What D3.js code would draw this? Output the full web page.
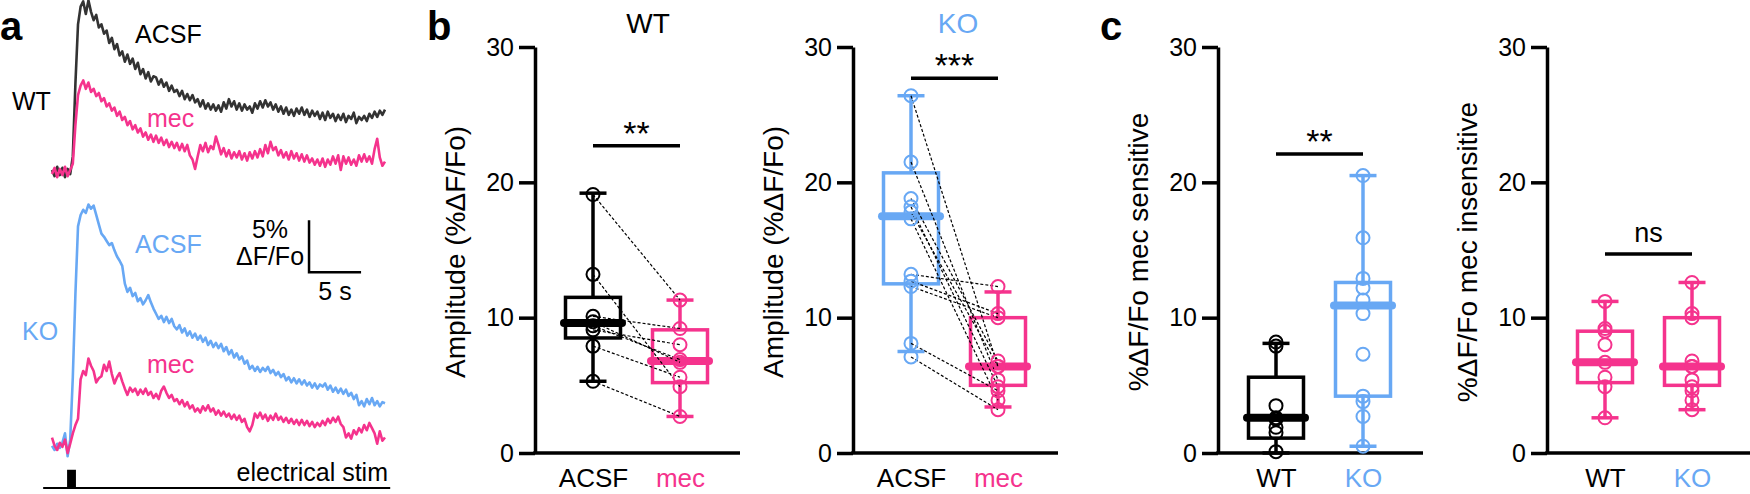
<!DOCTYPE html>
<html>
<head>
<meta charset="utf-8">
<script src="https://cdn.jsdelivr.net/npm/d3@7"></script>
<style>
  body { margin: 0; background: #fff; }
  svg text { font-family: "Liberation Sans", Arial, sans-serif; }
</style>
</head>
<body>
<svg id="fig" width="1750" height="494"></svg>
<script>
// ---- panel a: example traces, one value every 0.25 s (%dF/Fo) ----
const traceStep = 0.25;
const wtAcsf = [
  0.2, -0.4, 0.5, -0.3, 0.4, -0.5, 0.3, -0.2,
  1.5, 8.5, 14.2, 15.9, 16.4, 15.2, 16.5, 15.4,
  14.6, 15.1, 13.9, 14.2, 13.3, 13.6, 12.4, 12.9,
  11.8, 12.3, 11.2, 11.6, 10.6, 11.3, 10.4, 10.9,
  9.9, 10.5, 9.4, 9.9, 9.0, 9.6, 8.7, 9.2,
  9.1, 8.4, 8.9, 8.2, 8.6, 7.8, 8.3, 7.7,
  7.9, 7.3, 7.8, 7.0, 7.5, 6.9, 7.4, 6.7,
  7.0, 6.3, 6.9, 6.1, 6.6, 6.0, 6.5, 5.9,
  6.4, 5.8, 6.7, 6.1, 7.0, 6.3, 6.8, 6.0,
  6.6, 5.9, 6.5, 6.0, 6.3, 5.7, 6.6, 6.1,
  6.8, 6.2, 6.9, 6.3, 6.7, 6.0, 6.5, 5.8,
  6.3, 5.6, 6.2, 5.5, 6.0, 5.4, 6.1, 5.6,
  6.2, 5.5, 6.0, 5.3, 5.9, 5.4, 5.8, 5.1,
  5.7, 5.0, 5.8, 5.2, 5.6, 4.9, 5.5, 5.0,
  5.6, 4.8, 5.4, 5.1, 5.7, 4.7, 5.3, 5.0,
  5.4, 4.9, 5.6, 5.2, 5.8, 5.3, 5.9, 5.5,
  6.0
];
const wtMec = [
  -0.2, 0.4, -0.5, 0.3, -0.3, 0.5, -0.4, 0.2,
  0.8, 4.5, 7.4, 8.3, 8.8, 8.0, 8.6, 7.7,
  8.0, 7.3, 7.6, 6.8, 7.1, 6.3, 6.6, 5.9,
  6.2, 5.4, 5.8, 5.0, 5.3, 4.5, 4.9, 4.1,
  4.5, 3.8, 4.2, 3.4, 3.8, 3.1, 3.6, 2.9,
  3.5, 2.8, 3.3, 2.6, 3.1, 2.4, 2.9, 2.3,
  2.8, 2.1, 2.7, 2.0, 2.6, 1.6, 1.2, 0.3,
  1.5, 2.6, 2.0, 2.8, 1.9, 2.5, 2.2, 3.4,
  2.6, 1.7, 2.3, 1.5, 2.1, 1.3, 1.9, 1.4,
  2.0, 1.2, 1.8, 1.1, 1.9, 1.3, 2.0, 1.4,
  2.2, 1.5, 2.6, 1.8, 2.9, 2.1, 2.4, 1.6,
  2.1, 1.4, 1.9, 1.2, 2.0, 1.3, 1.8, 1.1,
  1.7, 1.0, 1.6, 0.9, 1.3, 0.7, 1.2, 0.6,
  1.3, 0.5, 1.2, 0.7, 1.5, 0.8, 1.6, 0.2,
  1.5, 0.8, 1.4, 0.7, 1.2, 0.6, 1.6, 1.0,
  1.7, 1.0, 1.5, 0.8, 2.2, 3.2, 1.4, 0.6,
  1.0
];
const koAcsf = [
  0.4, 0.0, 0.6, 0.2, 0.7, 1.6, -0.6, 1.0,
  7.0, 15.0, 21.5, 22.6, 23.1, 22.8, 23.6, 23.2,
  23.5, 22.6, 21.7, 20.8, 20.5, 20.1, 19.7, 19.9,
  19.2, 18.6, 18.2, 17.7, 16.0, 15.2, 15.6, 14.8,
  15.1, 14.3, 14.6, 14.0, 14.4, 14.9, 14.2, 13.6,
  13.1, 12.6, 12.9, 12.3, 12.8, 12.2, 12.6, 11.9,
  11.6, 12.0, 11.3, 11.7, 11.0, 11.4, 10.8, 11.2,
  10.6, 11.0, 10.4, 10.8, 10.1, 10.5, 9.9, 10.3,
  9.8, 10.2, 9.5, 9.9, 9.2, 9.6, 8.9, 9.3,
  8.7, 9.0, 8.3, 8.6, 7.8, 8.1, 7.6, 8.0,
  7.5, 7.9, 7.6, 8.0, 7.4, 7.7, 7.2, 7.5,
  7.0, 7.3, 6.7, 7.0, 6.5, 6.9, 6.4, 6.8,
  6.3, 6.7, 6.2, 6.5, 6.0, 6.4, 5.9, 6.3,
  6.1, 6.4, 5.8, 6.2, 5.6, 6.0, 5.5, 5.9,
  5.4, 5.8, 5.2, 5.5, 4.9, 5.3, 4.3, 4.7,
  4.2, 4.9, 4.4, 5.0, 4.3, 4.7, 4.2, 4.6,
  4.5
];
const koMec = [
  1.2, 0.4, 0.0, 0.7, 0.3, 1.0, -0.3, 0.6,
  1.6, 2.4, 3.0, 6.8, 7.6, 7.2, 8.8, 8.1,
  7.6, 6.5, 6.9, 7.1, 8.2, 7.6, 8.5, 7.3,
  6.4, 7.0, 7.4, 6.6, 5.9, 5.3, 6.0, 5.6,
  5.9, 5.3, 5.8, 5.4, 5.9, 5.3, 5.6, 5.0,
  5.4, 4.9, 5.7, 6.1, 5.5, 5.0, 5.3, 4.7,
  4.9, 4.4, 4.8, 4.2, 4.6, 4.0, 4.3, 3.7,
  4.0, 3.6, 4.2, 3.8, 4.3, 3.7, 4.0, 3.4,
  3.8, 3.3, 3.7, 3.2, 3.5, 3.0, 3.4, 2.9,
  3.3, 2.7, 3.0, 2.2, 1.8, 2.4, 3.5, 3.1,
  3.6, 3.0, 3.4, 2.8, 3.3, 2.9, 3.5, 2.9,
  3.2, 2.7, 3.1, 2.6, 3.0, 2.5, 2.9, 2.4,
  2.9, 2.4, 2.8, 2.3, 2.7, 2.2, 2.6, 2.3,
  2.8, 2.4, 3.0, 2.6, 3.1, 2.7, 3.2, 2.5,
  2.2, 1.2, 1.6, 1.1, 1.9, 1.5, 2.1, 1.7,
  2.4, 1.9, 2.6, 2.1, 1.6, 0.6, 1.8, 0.9,
  1.2
];

// ---- panel b: paired amplitudes (%dF/Fo) ----
const condCats = ["ACSF", "mec"];
const wtAcsfAmp = [19.1, 13.2, 10.1, 9.7, 9.4, 9.1, 7.9, 5.3];
const wtMecAmp  = [11.3, 4.9, 9.2, 6.7, 6.9, 8.0, 5.6, 2.7];
const koAcsfAmp = [26.4, 21.5, 18.8, 18.2, 17.8, 17.3, 13.2, 12.7, 12.3, 8.1, 7.1];
const koMecAmp  = [6.4, 5.4, 6.8, 4.9, 6.4, 3.9, 12.3, 10.3, 10.0, 4.6, 3.2];
// box stats: [min, q1, median, q3, max]
const wtAcsfBox = [5.3, 8.5, 9.6, 11.5, 19.2];
const wtMecBox  = [2.7, 5.2, 6.8, 9.1, 11.3];
const koAcsfBox = [7.5, 12.5, 17.5, 20.7, 26.4];
const koMecBox  = [3.4, 5.0, 6.4, 10.0, 11.9];

// ---- panel c: mec sensitive / insensitive ----
const genoCats = ["WT", "KO"];
const sensWt = [8.2, 7.9, 3.5, 2.6, 2.5, 1.9, 1.5, 0.1];
const sensKo = [20.5, 15.9, 12.9, 12.2, 11.3, 10.3, 7.3, 4.2, 3.8, 2.7, 0.5];
const sensWtBox = [0.0, 1.1, 2.6, 5.6, 8.1];
const sensKoBox = [0.5, 4.2, 10.9, 12.6, 20.5];
const insensWt = [11.2, 9.2, 9.0, 8.0, 6.7, 5.6, 4.9, 2.6];
const insensKo = [12.6, 10.3, 10.0, 6.8, 6.4, 6.4, 5.4, 4.9, 4.6, 3.9, 3.2];
const insensWtBox = [2.6, 5.2, 6.7, 9.0, 11.2];
const insensKoBox = [3.2, 5.0, 6.4, 10.0, 12.6];

const yTicks = [0, 10, 20, 30];

const pink = "#f5338d";
const blue = "#68a8f4";
const traceGrey = "#333";
const svg = d3.select("#fig");

// ================= panel a =================
const xT = d3.scaleLinear().domain([0, 32]).range([52, 385]);
const yWT = d3.scaleLinear().domain([0, 10]).range([172, 68]);
const yKO = d3.scaleLinear().domain([0, 10]).range([450, 346]);

function drawTrace(vals, yScale, color) {
  const line = d3.line()
    .x((d, i) => xT(i * traceStep))
    .y(d => yScale(d));
  svg.append("path")
    .datum(vals)
    .attr("d", line)
    .attr("fill", "none")
    .attr("stroke", color)
    .attr("stroke-width", 2.6)
    .attr("stroke-linejoin", "round");
}
drawTrace(wtAcsf, yWT, traceGrey);
drawTrace(wtMec, yWT, pink);
drawTrace(koAcsf, yKO, blue);
drawTrace(koMec, yKO, pink);

function txt(x, y, s, opts = {}) {
  return svg.append("text")
    .attr("x", x).attr("y", y)
    .attr("font-size", opts.size || 25)
    .attr("font-weight", opts.weight || "normal")
    .attr("fill", opts.color || "#000")
    .attr("text-anchor", opts.anchor || "start")
    .text(s);
}

txt(0, 40, "a", { size: 40, weight: "bold" });
txt(135, 43, "ACSF");
txt(12, 110, "WT");
txt(147, 127, "mec", { color: pink });
txt(135, 253, "ACSF", { color: blue });
txt(22, 340, "KO", { color: blue });
txt(147, 373, "mec", { color: pink });

// scale bar: 5 % and 5 s
const sbT = 24.7, sbV = 17.1;
svg.append("path")
  .attr("d", `M${xT(sbT)},${yKO(sbV + 5)}V${yKO(sbV)}H${xT(sbT + 5)}`)
  .attr("fill", "none").attr("stroke", "#000").attr("stroke-width", 2.5);
txt(270, 238, "5%", { anchor: "middle" });
txt(270, 265, "ΔF/Fo", { anchor: "middle" });
txt(xT(sbT + 2.5), 300, "5 s", { anchor: "middle" });

// stimulation marker
svg.append("line")
  .attr("x1", xT(-0.85)).attr("x2", xT(32.5))
  .attr("y1", yKO(-3.65)).attr("y2", yKO(-3.65))
  .attr("stroke", "#000").attr("stroke-width", 2);
svg.append("rect")
  .attr("x", xT(1.45)).attr("width", xT(2.3) - xT(1.45))
  .attr("y", yKO(-1.9)).attr("height", yKO(-3.65) - yKO(-1.9))
  .attr("fill", "#000");
txt(388, 481, "electrical stim", { anchor: "end" });

// ================= panels b, c =================
const y = d3.scaleLinear().domain([0, 30]).range([453, 47]);

function boxPanel(p) {
  const x = d3.scalePoint().domain(p.cats).range([p.left + 58, p.left + 145]);
  const g = svg.append("g");

  const ax = g.append("g")
    .attr("transform", `translate(${p.left},0)`)
    .call(d3.axisLeft(y).tickValues(yTicks).tickSize(16).tickPadding(5).tickSizeOuter(0));
  ax.attr("font-family", null).attr("font-size", null);
  ax.select(".domain").attr("stroke-width", 3.5).attr("stroke", "#000");
  ax.selectAll(".tick line").attr("stroke-width", 3.5).attr("stroke", "#000");
  ax.selectAll(".tick text").attr("font-size", 25).attr("fill", "#000");

  g.append("line")
    .attr("x1", p.left - 1.75).attr("x2", p.left + 205)
    .attr("y1", y(0)).attr("y2", y(0))
    .attr("stroke", "#000").attr("stroke-width", 3.5);

  const xa = g.append("g")
    .attr("transform", `translate(0,${y(0)})`)
    .call(d3.axisBottom(x).tickSize(0).tickPadding(16));
  xa.attr("font-family", null).attr("font-size", null);
  xa.select(".domain").remove();
  xa.selectAll(".tick text")
    .attr("font-size", 26)
    .attr("fill", (d, i) => p.catColors[i]);

  g.append("text")
    .attr("transform", `translate(${p.left - 70},252) rotate(-90)`)
    .attr("text-anchor", "middle")
    .attr("font-size", 28)
    .text(p.label);

  if (p.title) {
    g.append("text")
      .attr("x", p.title.x).attr("y", 33)
      .attr("text-anchor", "middle")
      .attr("font-size", 28)
      .attr("fill", p.title.color)
      .text(p.title.text);
  }

  // boxes
  p.groups.forEach((grp, i) => {
    const cx = x(p.cats[i]);
    const [mn, q1, md, q3, mx] = grp.box;
    const bg = g.append("g").attr("stroke", grp.color).attr("fill", "none");
    bg.append("line").attr("x1", cx).attr("x2", cx).attr("y1", y(mn)).attr("y2", y(q1)).attr("stroke-width", 3.5);
    bg.append("line").attr("x1", cx).attr("x2", cx).attr("y1", y(q3)).attr("y2", y(mx)).attr("stroke-width", 3.5);
    [mn, mx].forEach(v => {
      bg.append("line").attr("x1", cx - 13.5).attr("x2", cx + 13.5).attr("y1", y(v)).attr("y2", y(v)).attr("stroke-width", 3.5);
    });
    bg.append("rect")
      .attr("x", cx - 27.5).attr("width", 55)
      .attr("y", y(q3)).attr("height", y(q1) - y(q3))
      .attr("stroke-width", 3.5);
    bg.append("line")
      .attr("x1", cx - 29).attr("x2", cx + 29)
      .attr("y1", y(md)).attr("y2", y(md))
      .attr("stroke-width", 8).attr("stroke-linecap", "round");
  });

  // paired dashed lines
  if (p.paired) {
    const a = p.groups[0].vals, b = p.groups[1].vals;
    g.append("g").selectAll("line")
      .data(d3.range(a.length))
      .join("line")
      .attr("x1", x(p.cats[0])).attr("x2", x(p.cats[1]))
      .attr("y1", i => y(a[i])).attr("y2", i => y(b[i]))
      .attr("stroke", "#000").attr("stroke-width", 1.2)
      .attr("stroke-dasharray", "3,2");
  }

  // points
  p.groups.forEach((grp, i) => {
    g.append("g").selectAll("circle")
      .data(grp.vals)
      .join("circle")
      .attr("cx", x(p.cats[i]))
      .attr("cy", d => y(d))
      .attr("r", 6.5)
      .attr("fill", "none")
      .attr("stroke", grp.color)
      .attr("stroke-width", 2);
  });

  // significance
  const s = p.sig;
  g.append("line")
    .attr("x1", x(p.cats[0])).attr("x2", x(p.cats[1]))
    .attr("y1", y(s.v)).attr("y2", y(s.v))
    .attr("stroke", "#000").attr("stroke-width", 3.5);
  g.append("text")
    .attr("x", (x(p.cats[0]) + x(p.cats[1])) / 2)
    .attr("y", y(s.v) - s.dy)
    .attr("text-anchor", "middle")
    .attr("font-size", s.size)
    .text(s.text);
}

boxPanel({
  left: 535, cats: condCats, catColors: ["#000", pink],
  label: "Amplitude (%ΔF/Fo)",
  title: { text: "WT", color: "#000", x: 648 },
  groups: [
    { vals: wtAcsfAmp, box: wtAcsfBox, color: "#000" },
    { vals: wtMecAmp, box: wtMecBox, color: pink }
  ],
  paired: true,
  sig: { text: "**", v: 22.7, dy: 1, size: 34 }
});
boxPanel({
  left: 853, cats: condCats, catColors: ["#000", pink],
  label: "Amplitude (%ΔF/Fo)",
  title: { text: "KO", color: blue, x: 958 },
  groups: [
    { vals: koAcsfAmp, box: koAcsfBox, color: blue },
    { vals: koMecAmp, box: koMecBox, color: pink }
  ],
  paired: true,
  sig: { text: "***", v: 27.7, dy: 1, size: 34 }
});
boxPanel({
  left: 1218, cats: genoCats, catColors: ["#000", blue],
  label: "%ΔF/Fo mec sensitive",
  groups: [
    { vals: sensWt, box: sensWtBox, color: "#000" },
    { vals: sensKo, box: sensKoBox, color: blue }
  ],
  paired: false,
  sig: { text: "**", v: 22.1, dy: 1, size: 34 }
});
boxPanel({
  left: 1547, cats: genoCats, catColors: ["#000", blue],
  label: "%ΔF/Fo mec insensitive",
  groups: [
    { vals: insensWt, box: insensWtBox, color: pink },
    { vals: insensKo, box: insensKoBox, color: pink }
  ],
  paired: false,
  sig: { text: "ns", v: 14.7, dy: 12, size: 27 }
});

txt(427, 40, "b", { size: 40, weight: "bold" });
txt(1100, 40, "c", { size: 40, weight: "bold" });
</script>
</body>
</html>
